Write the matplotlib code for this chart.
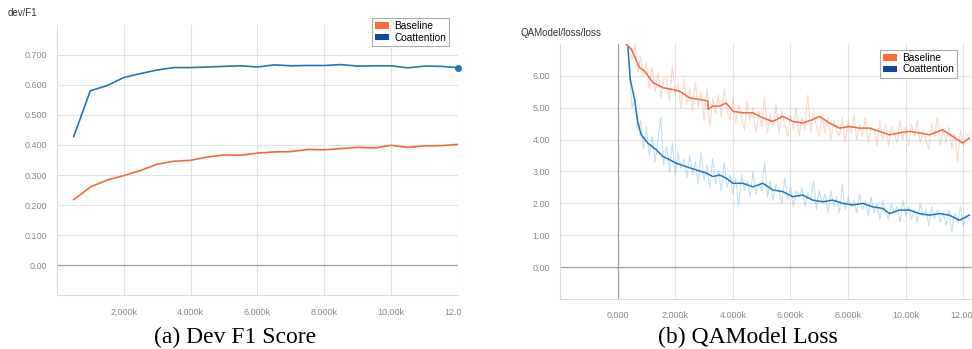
import matplotlib
matplotlib.use("Agg")
import matplotlib.pyplot as plt
from matplotlib.patches import Patch
from matplotlib.transforms import Bbox, TransformedBbox

plt.rcParams['font.family'] = ['Liberation Sans', 'DejaVu Sans']

# dev/F1, evaluated every 500 steps
f1_steps = [500, 1000, 1500, 2000, 2500, 3000, 3500, 4000, 4500, 5000, 5500, 6000,
            6500, 7000, 7500, 8000, 8500, 9000, 9500, 10000, 10500, 11000, 11500, 12000]
f1_baseline = [0.218, 0.260, 0.283, 0.298, 0.315, 0.336, 0.346, 0.349, 0.360, 0.367, 0.366, 0.373,
               0.377, 0.378, 0.385, 0.384, 0.388, 0.392, 0.390, 0.399, 0.392, 0.397, 0.398, 0.402]
f1_coatt = [0.428, 0.581, 0.598, 0.625, 0.638, 0.650, 0.658, 0.658, 0.660, 0.662, 0.664, 0.660,
            0.667, 0.664, 0.665, 0.665, 0.668, 0.663, 0.664, 0.664, 0.657, 0.663, 0.662, 0.658]

# loss, smoothed curves
base_steps = [300, 475, 763, 936, 1225, 1572, 1919, 2150, 2497, 2844, 3133, 3140, 3307, 3538,
              3770, 4000, 4347, 4694, 5040, 5387, 5734, 6081, 6428, 6775, 7007, 7353, 7700,
              8047, 8394, 8740, 9087, 9434, 9781, 10128, 10475, 10821, 11284, 11631, 11978, 12210]
base_loss = [6.99, 6.84, 6.26, 6.15, 5.79, 5.63, 5.57, 5.52, 5.31, 5.26, 5.21, 4.95, 5.05, 5.05,
             5.15, 4.89, 4.84, 4.84, 4.68, 4.57, 4.73, 4.57, 4.52, 4.63, 4.73, 4.52, 4.36,
             4.41, 4.36, 4.36, 4.26, 4.15, 4.21, 4.26, 4.21, 4.15, 4.31, 4.10, 3.89, 4.05]
coatt_steps = [358, 440, 590, 705, 820, 1050, 1342, 1572, 1803, 2034, 2381, 2728, 3075, 3307,
               3538, 3770, 4000, 4347, 4694, 5040, 5387, 5734, 6081, 6428, 6775, 7122, 7469,
               7816, 8163, 8509, 8856, 9203, 9434, 9781, 10128, 10475, 10821, 11168, 11515,
               11862, 12210]
coatt_loss = [6.89, 5.89, 5.26, 4.52, 4.15, 3.89, 3.68, 3.47, 3.37, 3.26, 3.15, 3.05, 2.95, 2.84,
              2.89, 2.79, 2.63, 2.63, 2.52, 2.63, 2.42, 2.37, 2.21, 2.26, 2.10, 2.05, 2.10,
              2.00, 1.95, 2.00, 1.89, 1.84, 1.68, 1.79, 1.79, 1.68, 1.63, 1.68, 1.63, 1.47, 1.63]

# loss, raw (unsmoothed) traces, every 100 steps from 400 to 12200
raw_steps = list(range(400, 12201, 100))
base_raw = [6.9, 6.5, 7.0, 6.1, 6.6, 6.0, 6.4, 5.6, 6.3, 5.5,
            6.1, 5.3, 5.9, 5.9, 5.2, 6.3, 5.4, 5.8, 5.0, 5.9,
            5.1, 5.6, 4.9, 5.8, 5.0, 5.5, 4.6, 5.6, 4.4, 5.3,
            4.8, 5.4, 4.7, 5.6, 4.9, 4.6, 5.3, 4.5, 5.1, 4.7,
            4.3, 5.2, 4.6, 5.0, 4.2, 4.9, 4.4, 5.3, 4.2, 4.8,
            4.4, 5.1, 4.2, 4.9, 4.5, 4.1, 4.8, 4.3, 5.0, 4.1,
            4.7, 4.3, 5.4, 4.2, 4.9, 4.4, 4.1, 4.8, 4.2, 4.7,
            4.0, 4.6, 4.3, 4.1, 4.7, 3.9, 4.6, 4.2, 4.8, 4.0,
            4.5, 4.1, 4.7, 3.9, 4.4, 4.3, 3.8, 4.6, 4.0, 4.5,
            3.8, 4.4, 4.2, 3.9, 4.6, 4.0, 4.4, 3.8, 4.5, 4.1,
            4.6, 3.9, 4.3, 4.0, 3.7, 4.5, 4.1, 4.7, 3.8, 4.3,
            3.9, 4.4, 3.7, 4.2, 3.3, 4.3, 3.8, 4.1, 4.2]
coatt_raw = [6.3, 5.0, 5.3, 4.3, 4.6, 3.7, 4.4, 3.5, 4.1, 3.3,
             4.0, 4.7, 3.2, 3.8, 3.0, 3.9, 2.9, 3.6, 3.1, 3.4,
             2.8, 3.5, 2.9, 3.3, 2.6, 3.6, 2.7, 3.2, 2.5, 3.4,
             2.6, 3.0, 2.4, 3.3, 2.5, 2.9, 2.3, 2.8, 1.9, 2.9,
             2.4, 2.7, 2.2, 3.0, 2.3, 2.6, 2.4, 3.3, 2.2, 2.7,
             2.1, 2.6, 2.4, 2.0, 2.8, 2.1, 2.5, 1.9, 2.4, 2.2,
             2.5, 1.9, 2.3, 2.1, 2.7, 1.8, 2.4, 2.0, 2.3, 1.7,
             2.4, 1.9, 2.2, 1.7, 2.6, 1.8, 2.2, 1.9, 2.1, 1.7,
             2.3, 1.8, 2.1, 1.6, 2.2, 1.7, 2.0, 1.5, 2.1, 1.7,
             1.5, 2.0, 1.7, 1.9, 1.4, 2.1, 1.6, 1.9, 1.5, 1.8,
             1.4, 2.0, 1.6, 1.8, 1.3, 1.9, 1.5, 1.8, 1.4, 1.7,
             1.3, 1.8, 1.1, 1.7, 1.4, 1.9, 1.3, 1.6, 1.5]

f1_yticks = [0.0, 0.1, 0.2, 0.3, 0.4, 0.5, 0.6, 0.7]
f1_ylabels = ['0.00', '0.100', '0.200', '0.300', '0.400', '0.500', '0.600', '0.700']
f1_xticks = [2000, 4000, 6000, 8000, 10000, 12000]
f1_xlabels = ['2.000k', '4.000k', '6.000k', '8.000k', '10.00k', '12.00k']
loss_yticks = [0, 1, 2, 3, 4, 5, 6]
loss_ylabels = ['0.00', '1.00', '2.00', '3.00', '4.00', '5.00', '6.00']
loss_xticks = [0, 2000, 4000, 6000, 8000, 10000, 12000]
loss_xlabels = ['0.000', '2.000k', '4.000k', '6.000k', '8.000k', '10.00k', '12.00k']

ORANGE = '#f4683c'
BLUE = '#1f78b8'
LEG_ORANGE = '#ff6d33'
LEG_BLUE = '#0d47a1'
GRID = '#e3e3e3'
TICK = '#8a8a8a'

fig = plt.figure(figsize=(9.72, 3.49), dpi=100)
ax1 = fig.add_axes([0.0586, 0.1547, 0.4126, 0.7737])
ax2 = fig.add_axes([0.5761, 0.1433, 0.4239, 0.7307])


def style(ax):
    for side in ['top', 'right']:
        ax.spines[side].set_visible(False)
    for side in ['left', 'bottom']:
        ax.spines[side].set_color('#dcdcdc')
        ax.spines[side].set_linewidth(0.8)
    ax.grid(True, color=GRID, linewidth=0.8)
    ax.set_axisbelow(True)
    ax.tick_params(axis='both', length=0, labelsize=6.5, labelcolor=TICK)
    ax.tick_params(axis='y', pad=7)
    ax.tick_params(axis='x', pad=9)
    ax.axhline(0, color='#a0a0a0', linewidth=0.9, zorder=1)


# (a) dev F1
style(ax1)
ax1.plot(f1_steps, f1_baseline, color=ORANGE, lw=1.2, zorder=3)
ax1.plot(f1_steps, f1_coatt, color=BLUE, lw=1.2, zorder=3)
ax1.plot(f1_steps[-1], f1_coatt[-1], 'o', color=BLUE, ms=4, zorder=4, clip_on=False)
ax1.set_xlim(0, 12000)
ax1.set_ylim(-0.1, 0.8)
ax1.set_yticks(f1_yticks, f1_ylabels)
ax1.set_xticks(f1_xticks, f1_xlabels)
# the screenshot is cropped just after 12k, cutting the last label
clip = TransformedBbox(Bbox([[0, 0], [0.474, 1]]), fig.transFigure)
for lbl in ax1.get_xticklabels():
    lbl.set_clip_box(clip)
    lbl.set_clip_on(True)

# (b) loss
style(ax2)
ax2.axvline(0, color='#a0a0a0', linewidth=0.9, zorder=1)
ax2.plot(raw_steps, base_raw, color=ORANGE, lw=0.8, alpha=0.25, zorder=2)
ax2.plot(raw_steps, coatt_raw, color='#3b9ad6', lw=0.8, alpha=0.3, zorder=2)
ax2.plot(base_steps, base_loss, color=ORANGE, lw=1.1, zorder=3)
ax2.plot(coatt_steps, coatt_loss, color=BLUE, lw=1.1, zorder=3)
ax2.set_xlim(-2000, 12300)
ax2.set_ylim(-1, 7)
ax2.set_yticks(loss_yticks, loss_ylabels)
ax2.set_xticks(loss_xticks, loss_xlabels)
clip2 = TransformedBbox(Bbox([[0, 0], [1, 1]]), fig.transFigure)
for lbl in ax2.get_xticklabels():
    lbl.set_clip_box(clip2)
    lbl.set_clip_on(True)

# titles
fig.text(0.0082, 0.963, 'dev/F1', fontsize=7, color='#333333', va='center')
fig.text(0.536, 0.905, 'QAModel/loss/loss', fontsize=7, color='#333333', va='center')

# legends
handles = [Patch(facecolor=LEG_ORANGE, edgecolor='none', label='Baseline'),
           Patch(facecolor=LEG_BLUE, edgecolor='none', label='Coattention')]
for ax, anchor in [(ax1, (0.462, 0.948)), (ax2, (0.9846, 0.857))]:
    leg = ax.legend(handles=handles, loc='upper right', bbox_to_anchor=anchor,
                    bbox_transform=fig.transFigure, fontsize=7.3, frameon=True,
                    fancybox=False, edgecolor='#aaaaaa', framealpha=1,
                    handlelength=1.4, handleheight=0.6, handletextpad=0.5,
                    borderpad=0.3, labelspacing=0.15, borderaxespad=0)
    leg.get_frame().set_linewidth(0.8)
    leg.set_zorder(10)

# captions
fig.text(0.2418, 0.034, '(a) Dev F1 Score', fontsize=17, family='Liberation Serif',
         ha='center', va='center')
fig.text(0.7695, 0.034, '(b) QAModel Loss', fontsize=17, family='Liberation Serif',
         ha='center', va='center')

fig.savefig('out.png', dpi=100)
